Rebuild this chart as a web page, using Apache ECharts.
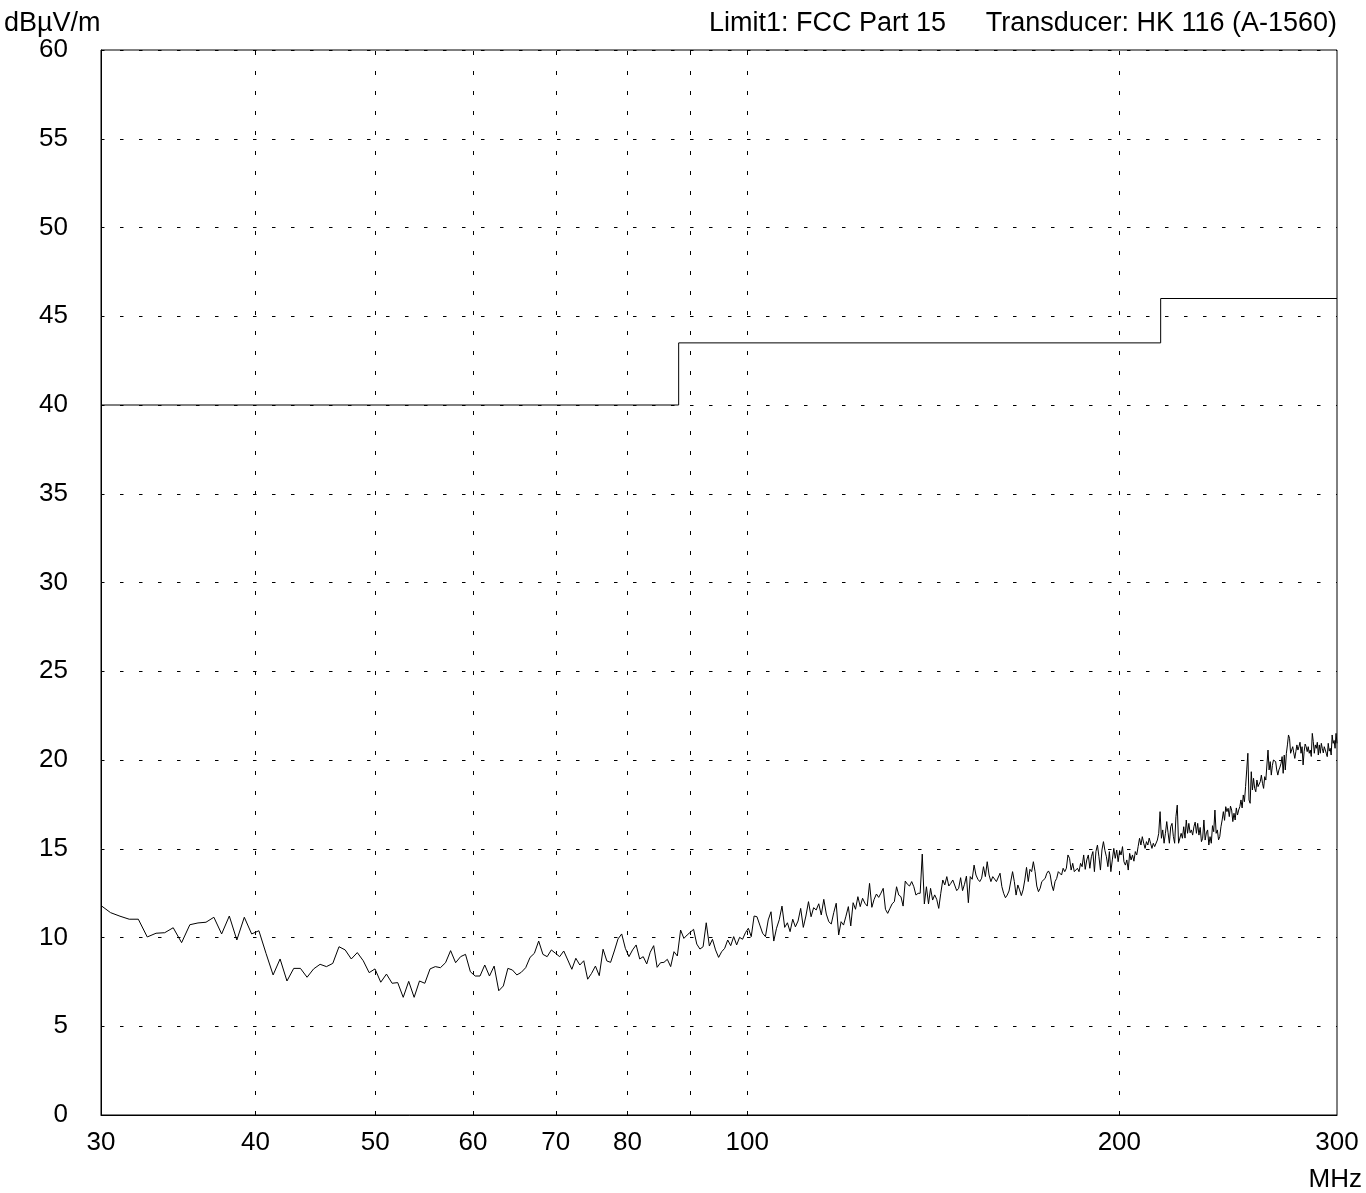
<!DOCTYPE html>
<html>
<head>
<meta charset="utf-8">
<script src="https://cdn.jsdelivr.net/npm/echarts@6/dist/echarts.min.js"></script>
<style>
  html, body { margin: 0; padding: 0; background: #fff; }
  #chart { width: 1366px; height: 1193px; }
</style>
</head>
<body>
<div id="chart"></div>
<script>
// ---- data ----
const yUnit = 'dBµV/m';
const xUnit = 'MHz';
const headerLimit = 'Limit1: FCC Part 15';
const headerTransducer = 'Transducer: HK 116 (A-1560)';

// Sweep: start frequency and step (MHz), 501 points 30..300 MHz
const freqStart = 30;
const freqStep = 0.54;
const levels = [
  // 30 - 37 MHz
  11.8, 11.4, 11.2, 11.03, 11.03, 10.03, 10.24, 10.27, 10.55, 9.71, 10.72, 10.82, 10.86, 11.14,
  // 37.5 - 45.7 MHz
  10.20, 11.21, 9.86, 11.14, 10.20, 10.38, 9.1, 7.89, 8.79, 7.55, 8.26, 8.26, 7.76, 8.23, 8.49, 8.36,
  // 46 - 56 MHz
  8.54, 9.48, 9.30, 8.79, 9.15, 8.69, 8.02, 8.23, 7.48, 7.94, 7.42, 7.46, 6.63, 7.53, 6.63, 7.55, 7.42, 8.23, 8.36,
  // 56 - 68 MHz
  8.30, 8.58, 9.26, 8.58, 8.92, 9.05, 8.07, 7.83, 7.83, 8.45, 7.83, 8.39, 7.00, 7.27, 8.26, 8.17, 7.89, 8.04, 8.30, 8.88, 9.11, 9.80, 9.05,
  // 69 - 84 MHz
  8.92, 9.30, 9.11, 8.92, 9.24, 8.73, 8.21, 8.83, 8.45, 8.69, 7.65, 7.98, 8.39, 7.85, 9.34, 8.68, 8.60, 9.24, 9.92, 10.20, 9.39, 8.92, 9.30, 9.58, 8.79, 8.92, 8.51, 9.17, 9.54,
  // 84.5 - 103 MHz
  8.32, 8.58, 8.60, 8.77, 8.36, 9.20, 8.96, 10.42, 9.95, 10.14, 10.3, 10.46, 9.63, 9.35, 9.48, 10.83, 9.52, 9.90, 9.3, 8.88, 9.20, 9.39, 9.86, 9.54, 10.05, 9.58, 10.01, 9.9, 10.27, 10.52, 10.05, 11.21, 11.17, 10.70, 10.24,
  // 103 - 127 MHz
  10.05, 10.99, 11.45, 9.80, 10.52, 11.0, 11.77, 10.57, 10.83, 10.33, 11.03, 10.6, 10.93, 11.64, 10.57, 11.21, 12.02, 11.17, 11.68, 11.55, 11.9, 11.27, 12.15, 11.32, 10.89, 10.76, 11.4, 11.93, 10.14, 10.89, 10.70, 11.2, 11.74, 10.65, 11.96, 11.59, 12.3, 11.74, 12.21, 11.93, 11.77, 13.05, 11.70, 12.15,
  // 127 - 155 MHz
  12.45, 12.26, 12.5, 12.77, 11.59, 11.36, 11.64, 11.9, 12.02, 12.86, 12.39, 12.30, 11.77, 13.18, 13.0, 12.90, 13.15, 12.86, 12.39, 12.49, 12.49, 14.70, 11.89, 12.86, 11.89, 12.77, 12.11, 12.4, 12.15, 11.64, 12.49, 13.24, 12.96, 13.43, 12.9, 13.05, 13.24, 13.15, 12.64, 12.77, 13.37, 12.64, 13.0, 13.46, 11.96, 13.43, 13.28, 14.08, 13.52, 13.28, 13.15, 13.34, 13.99,
  // 156 - 190 MHz
  13.43, 14.27, 13.52, 13.15, 13.43, 13.33, 13.15, 13.24, 13.62, 12.87, 12.49, 12.24, 12.39, 12.62, 12.68, 13.71, 13.15, 12.39, 12.96, 12.68, 12.36, 12.68, 13.24, 13.95, 13.15, 13.84, 13.71, 14.27, 13.71, 12.90, 12.58, 12.77, 13.15, 13.24, 13.33, 13.62, 13.75, 13.56, 12.96, 12.64, 13.15, 13.33, 13.71, 13.62, 13.52, 13.90, 13.71, 13.90, 14.65, 14.46, 13.80, 14.18, 13.71, 13.62, 13.90, 13.71, 14.18, 13.99, 14.65, 13.84, 14.37, 14.65, 13.90, 14.55, 14.84,
  // 191 - 234 MHz
  13.71, 14.84, 15.21, 14.55, 13.80, 14.93, 15.40, 14.9, 14.55, 13.99, 14.84, 13.71, 14.37, 15.02, 14.46, 14.93, 14.27, 14.9, 14.65, 15.12, 14.27, 14.08, 14.37, 13.80, 14.74, 14.37, 14.65, 14.3, 14.84, 14.65, 15.12, 15.59, 15.21, 15.68, 15.31, 15.02, 15.40, 15.21, 15.6, 15.31, 15.02, 15.31, 15.12, 15.21, 15.49, 15.87, 17.09, 15.59, 16.06, 15.31, 15.87, 16.53, 15.9, 15.31, 16.24, 16.43, 15.7, 15.31, 16.81, 17.46, 15.31, 15.21, 15.87, 15.59, 16.24, 15.6, 16.62, 15.87, 16.43, 15.9, 16.06, 15.77, 16.24, 16.5, 15.87, 16.43, 15.77, 16.2, 15.40, 15.59,
  // 234 - 300 MHz
  16.62, 15.49, 15.9, 16.06, 15.21, 15.68, 15.31, 16.3, 15.96, 17.18, 15.87, 16.06, 15.5, 15.68, 16.24, 16.62, 17.09, 16.6, 17.37, 17.09, 17.28, 16.81, 17.4, 17.18, 16.53, 17.00, 16.62, 17.3, 16.90, 17.18, 17.37, 17.75, 17.3, 18.03, 17.65, 18.50, 19.44, 20.38, 17.75, 17.56, 19.34, 18.31, 18.97, 18.4, 18.21, 18.87, 18.50, 18.59, 18.78, 19.15, 18.69, 18.4, 19.06, 18.87, 18.78, 20.56, 19.44, 19.91, 19.15, 19.7, 20.00, 19.91, 19.91, 19.44, 19.15, 19.44, 19.6, 19.81, 20.19, 19.25, 20.28, 19.44, 20.38, 20.85, 21.41, 21.22, 20.38, 20.47, 20.75, 20.4, 20.09, 20.47, 20.85, 20.56, 20.75, 21.0, 20.38, 20.75, 19.72, 20.47, 20.9, 20.75, 20.47, 20.75, 20.38, 20.56, 20.2, 21.50, 21.03, 20.38, 20.85, 20.66, 21.0, 20.28, 20.85, 20.38, 20.94, 20.66, 20.4, 20.75, 20.66, 20.38, 20.19, 20.94, 20.5, 20.66, 20.28, 21.41, 20.94, 21.1, 20.66, 21.50, 20.94
];

// Limit line (FCC Part 15 class B, 3 m)
const limitFreq = [30, 88, 88, 216, 216, 300];
const limitLevel = [40, 40, 43.5, 43.5, 46, 46];

// Axes
const xLabelValues = [30, 40, 50, 60, 70, 80, 100, 200, 300];
const xGridValues = [40, 50, 60, 70, 80, 90, 100, 200];
const yMin = 0, yMax = 60, yStep = 5;

// ---- chart ----
const FONT = '"Liberation Sans", Arial, Helvetica, sans-serif';
const FS = 26;
const FSH = 27;
const chart = echarts.init(document.getElementById('chart'), null, { renderer: 'canvas' });

const measData = levels.map((v, i) => [Math.round((freqStart + i * freqStep) * 100) / 100, v]);
const limitData = limitFreq.map((f, i) => [f, limitLevel[i]]);

chart.setOption({
  animation: false,
  backgroundColor: '#fff',
  grid: {
    left: 101, right: 29, top: 50, bottom: 78,
    show: true, borderColor: '#000', borderWidth: 1, backgroundColor: 'transparent'
  },
  xAxis: {
    type: 'log', logBase: 10, min: 30, max: 300,
    axisLine: { show: true, lineStyle: { color: '#000', width: 1 } },
    axisTick: { show: false },
    splitLine: { show: false },
    axisLabel: {
      customValues: xLabelValues,
      color: '#000', fontFamily: FONT, fontSize: FS, margin: 15,
      formatter: v => String(Math.round(v))
    }
  },
  yAxis: {
    type: 'value', min: yMin, max: yMax, interval: yStep,
    axisLine: { show: true, lineStyle: { color: '#000', width: 1 } },
    axisTick: { show: false },
    splitLine: { show: true, lineStyle: { color: '#000', width: 1, type: [3.5, 15.5] } },
    axisLabel: { color: '#000', fontFamily: FONT, fontSize: FS, margin: 33 }
  },
  graphic: [
    { type: 'text', left: 4, top: 10, style: { text: yUnit, fill: '#000', font: FSH + 'px ' + FONT } },
    { type: 'text', right: 420, top: 10, style: { text: headerLimit, fill: '#000', font: FSH + 'px ' + FONT } },
    { type: 'text', right: 29, top: 10, style: { text: headerTransducer, fill: '#000', font: FSH + 'px ' + FONT } },
    { type: 'text', right: 4, top: 1167, style: { text: xUnit, fill: '#000', font: FS + 'px ' + FONT } }
  ],
  series: [
    {
      name: 'grid', type: 'line', data: [], silent: true,
      markLine: {
        silent: true, symbol: ['none', 'none'], animation: false,
        label: { show: false },
        lineStyle: { color: '#000', width: 1, type: [4, 16] },
        emphasis: { disabled: true },
        data: xGridValues.map(v => ({ xAxis: v }))
      }
    },
    {
      name: 'Limit', type: 'line', data: limitData,
      showSymbol: false, symbol: 'none', silent: true,
      lineStyle: { color: '#000', width: 1 }
    },
    {
      name: 'Level', type: 'line', data: measData,
      showSymbol: false, symbol: 'none', silent: true, sampling: null,
      lineStyle: { color: '#000', width: 1 }
    }
  ]
});
</script>
</body>
</html>
